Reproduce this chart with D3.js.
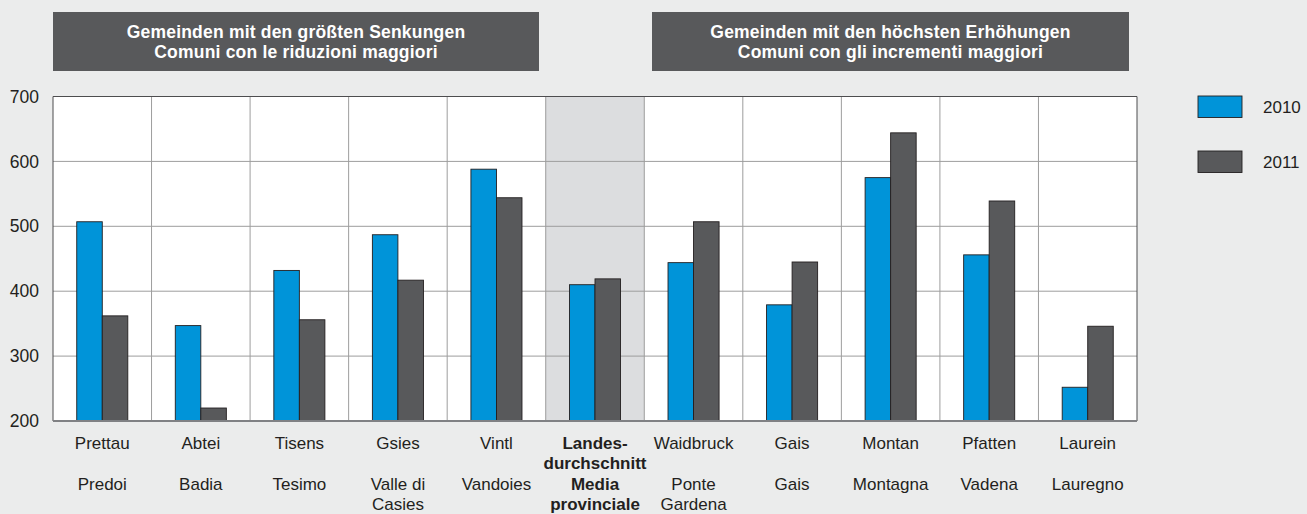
<!DOCTYPE html>
<html>
<head>
<meta charset="utf-8">
<script src="https://cdn.jsdelivr.net/npm/d3@7"></script>
<style>
  body { margin: 0; background: #ebecec; }
  svg { display: block; font-family: "Liberation Sans", Arial, sans-serif; }
</style>
</head>
<body>
<script>
var width = 1307;
var height = 514;

var years = ['2010', '2011'];
var categories = ['Prettau', 'Abtei', 'Tisens', 'Gsies', 'Vintl', 'Landesdurchschnitt',
                  'Waidbruck', 'Gais', 'Montan', 'Pfatten', 'Laurein'];
var labelsDe = [['Prettau'], ['Abtei'], ['Tisens'], ['Gsies'], ['Vintl'], ['Landes-', 'durchschnitt'],
                ['Waidbruck'], ['Gais'], ['Montan'], ['Pfatten'], ['Laurein']];
var labelsIt = [['Predoi'], ['Badia'], ['Tesimo'], ['Valle di', 'Casies'], ['Vandoies'], ['Media', 'provinciale'],
                ['Ponte', 'Gardena'], ['Gais'], ['Montagna'], ['Vadena'], ['Lauregno']];
var values2010 = [507, 347, 432, 487, 588, 410, 444, 379, 575, 456, 252];
var values2011 = [362, 220, 356, 417, 544, 419, 507, 445, 644, 539, 346];
var yTicks = [200, 300, 400, 500, 600, 700];
var headers = [
  ['Gemeinden mit den größten Senkungen', 'Comuni con le riduzioni maggiori'],
  ['Gemeinden mit den höchsten Erhöhungen', 'Comuni con gli incrementi maggiori']
];
var highlight = 'Landesdurchschnitt';

var colors = { '2010': '#0094d9', '2011': '#58595b' };
var textColor = '#231f20';

var svg = d3.select('body').append('svg')
  .attr('width', width)
  .attr('height', height);

var plotLeft = 53, plotRight = 1137, plotTop = 96.5, plotBottom = 421;

var x = d3.scaleBand().domain(categories).range([plotLeft, plotRight]).padding(0);
var xSub = d3.scaleBand().domain(years).range([0, x.bandwidth()]).paddingInner(0).paddingOuter(0.93);
var y = d3.scaleLinear().domain([200, 700]).range([plotBottom, plotTop]);

// header boxes
var headerX = [[53, 539], [652, 1129]];
headers.forEach(function(lines, i) {
  var g = svg.append('g');
  g.append('rect')
    .attr('x', headerX[i][0]).attr('y', 12)
    .attr('width', headerX[i][1] - headerX[i][0]).attr('height', 59)
    .attr('fill', '#58595b');
  lines.forEach(function(t, j) {
    g.append('text')
      .attr('x', (headerX[i][0] + headerX[i][1]) / 2)
      .attr('y', 37.5 + j * 20)
      .attr('text-anchor', 'middle')
      .attr('fill', '#fff')
      .attr('font-weight', 'bold')
      .attr('font-size', 17.5)
      .attr('letter-spacing', 0.2)
      .text(t);
  });
});

// plot background
svg.append('rect')
  .attr('x', plotLeft).attr('y', plotTop)
  .attr('width', plotRight - plotLeft).attr('height', plotBottom - plotTop)
  .attr('fill', '#fff');
svg.append('rect')
  .attr('x', x(highlight)).attr('y', plotTop)
  .attr('width', x.bandwidth()).attr('height', plotBottom - plotTop)
  .attr('fill', '#dcdddf');

// grid
svg.append('g').selectAll('line')
  .data(yTicks.slice(1, -1))
  .enter().append('line')
  .attr('x1', plotLeft).attr('x2', plotRight)
  .attr('y1', d => y(d)).attr('y2', d => y(d))
  .attr('stroke', '#9d9d9d').attr('stroke-width', 1);
svg.append('g').selectAll('line')
  .data(categories.slice(1))
  .enter().append('line')
  .attr('x1', d => x(d)).attr('x2', d => x(d))
  .attr('y1', plotTop).attr('y2', plotBottom)
  .attr('stroke', '#9d9d9d').attr('stroke-width', 1);

// bars
var series = years.map(function(yr, i) {
  var vals = i === 0 ? values2010 : values2011;
  return { year: yr, values: vals };
});
svg.append('g').selectAll('g')
  .data(series)
  .enter().append('g')
  .attr('fill', d => colors[d.year])
  .selectAll('rect')
  .data(d => d.values.map((v, i) => ({ year: d.year, cat: categories[i], value: v })))
  .enter().append('rect')
  .attr('x', d => x(d.cat) + xSub(d.year))
  .attr('y', d => y(d.value))
  .attr('width', xSub.bandwidth())
  .attr('height', d => plotBottom - y(d.value))
  .attr('stroke', '#231f20')
  .attr('stroke-width', 0.9);

// frame
svg.append('path')
  .attr('d', 'M' + plotLeft + ',' + plotBottom + 'V' + plotTop + 'H' + plotRight + 'V' + plotBottom)
  .attr('fill', 'none')
  .attr('stroke', '#4d4d4f')
  .attr('stroke-width', 1);
svg.append('line')
  .attr('x1', plotLeft).attr('x2', plotRight)
  .attr('y1', plotBottom).attr('y2', plotBottom)
  .attr('stroke', '#808184').attr('stroke-width', 2);

// y axis
var yAxis = svg.append('g')
  .attr('transform', 'translate(' + plotLeft + ',0)')
  .call(d3.axisLeft(y).tickValues(yTicks).tickSize(0).tickPadding(14));
yAxis.select('.domain').remove();
yAxis.selectAll('text')
  .attr('font-size', 17.5)
  .attr('font-family', '"Liberation Sans", Arial, sans-serif')
  .attr('fill', textColor);

// category labels
var labels = svg.append('g').selectAll('g')
  .data(categories)
  .enter().append('g')
  .attr('transform', d => 'translate(' + (x(d) + x.bandwidth() / 2) + ',0)')
  .attr('font-size', 17)
  .attr('fill', textColor)
  .attr('text-anchor', 'middle')
  .attr('font-weight', d => d === highlight ? 'bold' : null);
labels.each(function(d, i) {
  var g = d3.select(this);
  labelsDe[i].forEach(function(t, j) {
    g.append('text').attr('y', 449 + j * 20).text(t);
  });
  labelsIt[i].forEach(function(t, j) {
    g.append('text').attr('y', 489.5 + j * 20).text(t);
  });
});

// legend
var legend = svg.append('g').selectAll('g')
  .data(years)
  .enter().append('g')
  .attr('transform', (d, i) => 'translate(1198,' + (96 + i * 55) + ')');
legend.append('rect')
  .attr('width', 44).attr('height', 21.5)
  .attr('fill', d => colors[d])
  .attr('stroke', '#231f20').attr('stroke-width', 0.9);
legend.append('text')
  .attr('x', 65).attr('y', 17)
  .attr('font-size', 17)
  .attr('fill', textColor)
  .text(d => d);
</script>
</body>
</html>
